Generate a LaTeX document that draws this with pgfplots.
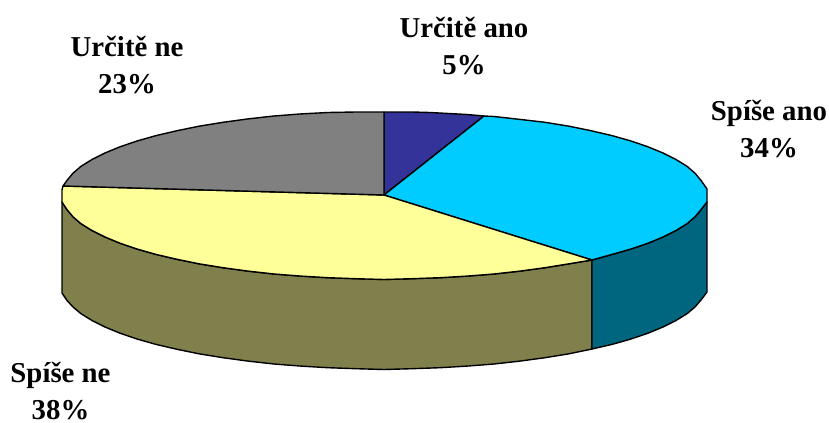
\documentclass[border=0pt]{standalone}
\usepackage{fontspec}
\setmainfont{Liberation Serif}
\usepackage{pgfplots}
\pgfplotsset{compat=1.18}
\definecolor{cBlue}{HTML}{333399}
\definecolor{cCyan}{HTML}{00CCFF}
\definecolor{cYellow}{HTML}{FFFF99}
\definecolor{cGrey}{HTML}{808080}
\definecolor{cOlive}{HTML}{80804D}
\definecolor{cTeal}{HTML}{006680}
\tikzset{lbl/.style={font=\bfseries\fontsize{21.6}{28}\selectfont, align=center, anchor=center, inner sep=0pt}}
\begin{document}
\begin{tikzpicture}
\begin{axis}[
  scale only axis,
  width=621.75pt, height=316.5pt,
  xmin=0, xmax=829, ymin=0, ymax=422,
  y dir=reverse,
  axis lines=none,
  clip=false,
  every axis plot/.append style={draw=black, line width=1.05pt, line join=round},
]
% side walls
\addplot[fill=cOlive] coordinates {
  (62,202) (67,209.6) (73,216.8) (81,223.7) (92,230.5) (105,237) (120,243.2) (137,249) (156,254.4)
  (177,259.3) (199,263.8) (223,267.7) (248,271.1) (274,274) (301,276.1) (328,277.7) (356,278.7)
  (384,279.5) (412,278.7) (440,277.7) (467,276.1) (494,274) (520,271.1) (545,267.7) (569,263.8) (592,260)
  (592,349) (569,353.8) (545,357.7) (520,361.1) (494,364) (467,366.1) (440,367.7) (412,368.7)
  (384,369.5) (356,368.7) (328,367.7) (301,366.1) (274,364) (248,361.1) (223,357.7) (199,353.8)
  (177,349.3) (156,344.4) (137,339) (120,333.2) (105,327) (92,320.5) (81,313.7) (73,307) (67,300.5) (62,293)
} --cycle;
\addplot[fill=cTeal] coordinates {
  (707,202) (701,209.6) (695,216.8) (687,223.7) (676,230.5) (663,237) (648,243.2) (631,249) (612,254.4) (592,260)
  (592,349) (612,344.4) (631,339) (648,333.2) (663,327) (676,320.5) (687,313.7) (695,307) (701,300) (707,292)
} --cycle;
% top slices
\addplot[fill=cBlue] coordinates {
  (384,195) (384,112) (412,112) (430,112.5) (467,114.5) (484,116)
} --cycle;
\addplot[fill=cCyan] coordinates {
  (384,195) (484,116) (494,116.5) (520,119.4) (545,122.3) (569,126.2) (591,130.7) (612,135.6) (631,141)
  (648,146.8) (663,153) (676,159.5) (687,166.3) (695,173.2) (701,180.4) (707,189)
  (707,202) (701,209.6) (695,216.8) (687,223.7) (676,230.5) (663,237) (648,243.2) (631,249) (612,254.4) (592,260)
} --cycle;
\addplot[fill=cYellow] coordinates {
  (384,195) (592,260) (569,263.8) (545,267.7) (520,271.1) (494,274) (467,276.1) (440,277.7) (412,278.7)
  (384,279.5) (356,278.7) (328,277.7) (301,276.1) (274,274) (248,271.1) (223,267.7) (199,263.8) (177,259.3)
  (156,254.4) (137,249) (120,243.2) (105,237) (92,230.5) (81,223.7) (73,216.8) (67,209.6) (62,202) (62,190) (63,186)
} --cycle;
\addplot[fill=cGrey] coordinates {
  (384,195) (63,186) (67,180.4) (73,173.2) (81,166.3) (92,159.5) (105,153) (120,146.8) (137,141) (156,135.6)
  (177,130.7) (199,126.2) (223,122.3) (248,118.9) (274,116) (301,113.9) (328,112.5) (356,112) (384,112)
} --cycle;
% labels
\node[lbl] at (axis cs:464,46) {Určitě ano\\5\%};
\node[lbl] at (axis cs:769,129) {Spíše ano\\34\%};
\node[lbl] at (axis cs:60.5,391) {Spíše ne\\38\%};
\node[lbl] at (axis cs:127,65) {Určitě ne\\23\%};
\end{axis}
\useasboundingbox (current axis.south west) rectangle (current axis.north east);
\end{tikzpicture}
\end{document}
